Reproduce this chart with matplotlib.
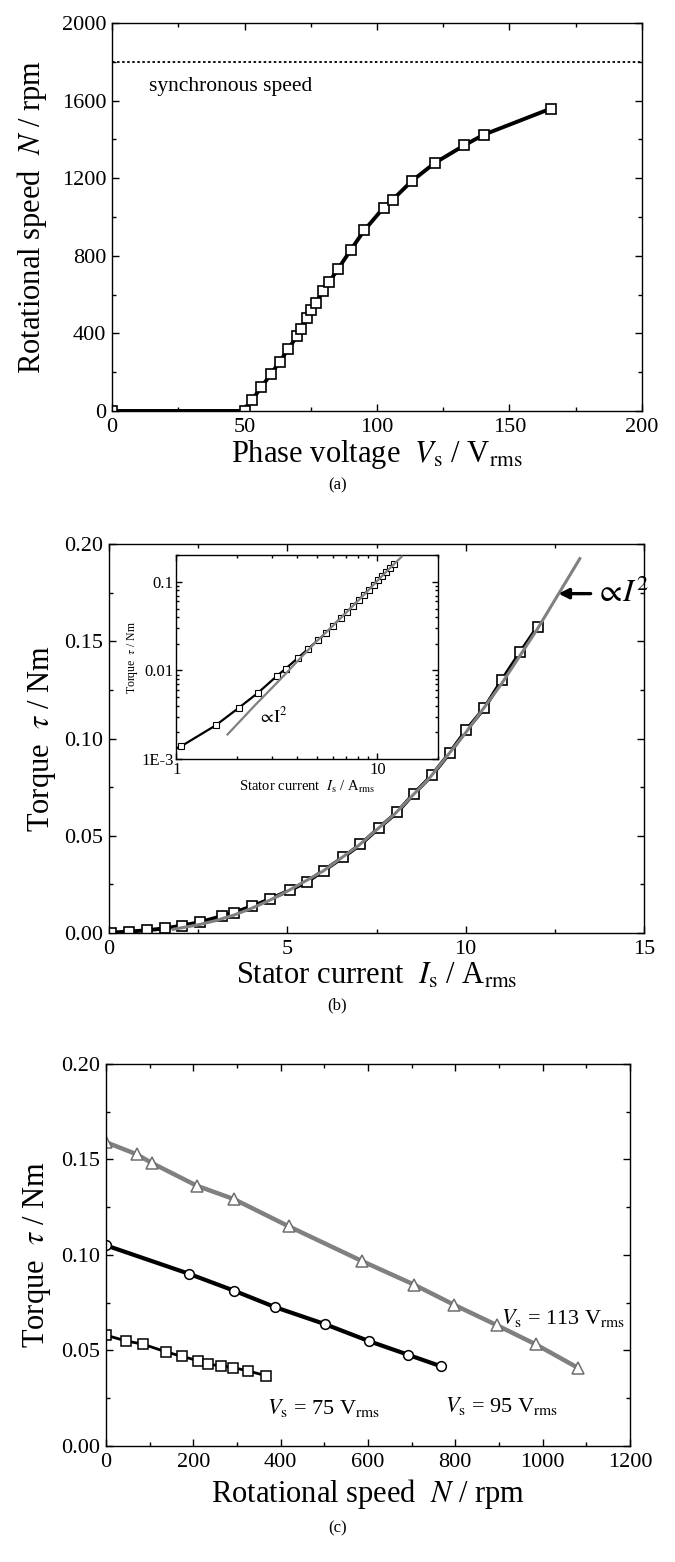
import matplotlib
matplotlib.use("Agg")
import matplotlib.pyplot as plt
from matplotlib.ticker import MultipleLocator, FormatStrFormatter, FixedLocator, FixedFormatter, LogLocator, NullFormatter

# ---- (a) speed vs phase voltage
V_a = [0, 50.0, 52.8, 56.3, 59.9, 63.3, 66.4, 69.8, 71.4, 73.5, 75.2, 76.8, 79.8,
       82.0, 85.2, 90.1, 95.2, 102.5, 105.9, 113.2, 121.8, 132.9, 140.3, 165.5]
N_a = [0, 0, 56, 122, 189, 254, 317, 386, 425, 481, 518, 557, 620,
       666, 730, 830, 931, 1048, 1089, 1186, 1278, 1369, 1424, 1558]
N_sync = 1800

# ---- (b) torque vs stator current
I_b = [0.05, 0.55, 1.06, 1.57, 2.05, 2.55, 3.17, 3.50, 4.02, 4.52, 5.08, 5.55, 6.02,
       6.57, 7.05, 7.56, 8.08, 8.54, 9.05, 9.56, 10.02, 10.52, 11.02, 11.53, 12.02]
T_b = [0.0002, 0.0007, 0.0014, 0.0024, 0.0038, 0.0056, 0.0087, 0.0105, 0.0138, 0.0175,
       0.0221, 0.0263, 0.0321, 0.0390, 0.0455, 0.0539, 0.0621, 0.0715, 0.0810, 0.0928,
       0.1044, 0.1156, 0.1301, 0.1443, 0.1575]
# grey "proportional to I^2" guide
I_fit = [1.8, 2.5, 3.0, 3.5, 4.0, 4.5, 5.0, 6.0, 7.0, 8.0, 9.0, 10.0, 11.0, 12.0, 13.2]
T_fit = [0.0019, 0.0042, 0.0064, 0.0092, 0.0127, 0.0168, 0.0215, 0.0318, 0.0450,
         0.0610, 0.0800, 0.1030, 0.1280, 0.1560, 0.1925]

# ---- (c) torque vs speed for three voltages
N_75 = [0, 45, 84.5, 138, 174, 210, 234, 264, 291, 325, 366]
T_75 = [0.058, 0.055, 0.0533, 0.0492, 0.0469, 0.0447, 0.0428, 0.0419, 0.0410, 0.0393, 0.0368]
N_95 = [0, 189, 293, 388, 501, 602, 691, 767]
T_95 = [0.105, 0.0902, 0.0813, 0.0726, 0.0638, 0.0549, 0.0478, 0.0417]
N_113 = [0, 70, 106, 208, 293, 419, 587, 705, 797, 896, 984, 1080]
T_113 = [0.159, 0.1527, 0.1480, 0.1362, 0.1292, 0.1149, 0.0967, 0.0845, 0.0739,
         0.0631, 0.0532, 0.0410]

plt.rcParams.update({
    "font.family": ["Liberation Serif", "DejaVu Serif"],
    "mathtext.fontset": "stix",
    "xtick.direction": "in", "ytick.direction": "in",
    "xtick.top": True, "ytick.right": True,
    "axes.linewidth": 1.0,
    "xtick.major.size": 5, "ytick.major.size": 5,
    "xtick.minor.size": 3, "ytick.minor.size": 3,
    "xtick.major.width": 1.0, "ytick.major.width": 1.0,
    "xtick.minor.width": 1.0, "ytick.minor.width": 1.0,
    "xtick.major.pad": 5, "ytick.major.pad": 4,
})

TICK_FS = 16
LAB_FS = 22
GREY = "#808080"

fig = plt.figure(figsize=(6.75, 15.62), dpi=100)

# ---------------- (a)
ax = fig.add_axes([0.166, 0.7369, 0.785, 0.2484])
ax.axhline(N_sync, color="k", ls=(0, (1.4, 1.4)), lw=1.3)
ax.plot(V_a, N_a, "-", color="k", lw=2.8, marker="s", ms=6.5, mfc="white",
        mec="k", mew=1.2)
ax.text(14, 1672, "synchronous speed", fontsize=15.5, va="center")
ax.set_xlim(0, 200)
ax.set_ylim(0, 2000)
ax.xaxis.set_major_locator(MultipleLocator(50))
ax.xaxis.set_minor_locator(MultipleLocator(25))
ax.yaxis.set_major_locator(MultipleLocator(400))
ax.yaxis.set_minor_locator(MultipleLocator(200))
ax.tick_params(labelsize=TICK_FS)
ax.set_xlabel(r"Phase voltage  $V_\mathrm{s}$ / V$_\mathrm{rms}$", fontsize=LAB_FS, labelpad=1)
ax.set_ylabel(r"Rotational speed  $N$ / rpm", fontsize=LAB_FS, labelpad=9)

# ---------------- (b)
ax = fig.add_axes([0.1615, 0.4027, 0.7926, 0.249])
ax.plot(I_b, T_b, "-", color="k", lw=2.8, marker="s", ms=7, mfc="white",
        mec="k", mew=1.2, zorder=2)
ax.plot(I_fit, T_fit, "-", color=GREY, lw=2.2, zorder=3)
ax.annotate(r"$\propto\!I^{2}$", xy=(12.6, 0.1745), xytext=(13.62, 0.1745),
            fontsize=23, va="center", ha="left",
            arrowprops=dict(arrowstyle="-|>", color="k", lw=2.4,
                            mutation_scale=15, shrinkA=1, shrinkB=0))
ax.set_xlim(0, 15)
ax.set_ylim(0, 0.20)
ax.xaxis.set_major_locator(MultipleLocator(5))
ax.xaxis.set_minor_locator(MultipleLocator(2.5))
ax.yaxis.set_major_locator(MultipleLocator(0.05))
ax.yaxis.set_minor_locator(MultipleLocator(0.025))
ax.yaxis.set_major_formatter(FormatStrFormatter("%.2f"))
ax.tick_params(labelsize=TICK_FS)
ax.set_xlabel(r"Stator current  $I_\mathrm{s}$ / A$_\mathrm{rms}$", fontsize=LAB_FS, labelpad=2)
ax.set_ylabel(r"Torque  $\tau$ / Nm", fontsize=LAB_FS, labelpad=5)

# inset (log-log)
axi = fig.add_axes([0.261, 0.514, 0.388, 0.1306])
axi.plot(I_b, T_b, "-", color="k", lw=1.6, marker="s", ms=3.8, mfc="white",
         mec="k", mew=0.8, zorder=2)
axi.plot(I_fit, T_fit, "-", color=GREY, lw=1.6, zorder=3)
axi.set_xscale("log")
axi.set_yscale("log")
axi.set_xlim(1, 20)
axi.set_ylim(1e-3, 0.2)
axi.xaxis.set_major_locator(FixedLocator([1, 10]))
axi.xaxis.set_major_formatter(FixedFormatter(["1", "10"]))
axi.xaxis.set_minor_locator(LogLocator(base=10, subs=range(2, 10)))
axi.xaxis.set_minor_formatter(NullFormatter())
axi.yaxis.set_major_locator(FixedLocator([1e-3, 1e-2, 1e-1]))
axi.yaxis.set_major_formatter(FixedFormatter(["1E-3", "0.01", "0.1"]))
axi.yaxis.set_minor_locator(LogLocator(base=10, subs=range(2, 10)))
axi.yaxis.set_minor_formatter(NullFormatter())
axi.tick_params(which="major", length=4, labelsize=12, pad=2)
axi.tick_params(which="minor", length=2)
axi.text(2.55, 0.003, r"$\propto\!\mathrm{I}^{2}$", fontsize=13, va="center")
axi.set_xlabel(r"Stator current  $I_\mathrm{s}$ / A$_\mathrm{rms}$", fontsize=10.5, labelpad=1)
axi.set_ylabel(r"Torque  $\tau$ / Nm", fontsize=8.5, labelpad=1)

# ---------------- (c)
ax = fig.add_axes([0.157, 0.0743, 0.7763, 0.2446])
ax.plot(N_113, T_113, "-", color=GREY, lw=3.2, marker="^", ms=8, mfc="white",
        mec="#6e6e6e", mew=1.1)
ax.plot(N_95, T_95, "-", color="k", lw=3.0, marker="o", ms=7, mfc="white",
        mec="k", mew=1.1)
ax.plot(N_75, T_75, "-", color="k", lw=2.0, marker="s", ms=6.5, mfc="white",
        mec="k", mew=1.1)
ax.text(905, 0.067, r"$V_\mathrm{s}$ = 113 V$_\mathrm{rms}$", fontsize=16, va="center")
ax.text(777, 0.021, r"$V_\mathrm{s}$ = 95 V$_\mathrm{rms}$", fontsize=16, va="center")
ax.text(368, 0.020, r"$V_\mathrm{s}$ = 75 V$_\mathrm{rms}$", fontsize=16, va="center")
ax.set_xlim(0, 1200)
ax.set_ylim(0, 0.20)
ax.xaxis.set_major_locator(MultipleLocator(200))
ax.xaxis.set_minor_locator(MultipleLocator(100))
ax.yaxis.set_major_locator(MultipleLocator(0.05))
ax.yaxis.set_minor_locator(MultipleLocator(0.025))
ax.yaxis.set_major_formatter(FormatStrFormatter("%.2f"))
ax.tick_params(labelsize=TICK_FS)
ax.set_xlabel(r"Rotational speed  $N$ / rpm", fontsize=LAB_FS, labelpad=4)
ax.set_ylabel(r"Torque  $\tau$ / Nm", fontsize=LAB_FS, labelpad=6)

# panel letters
for txt, ypx in [("(a)", 485), ("(b)", 1005), ("(c)", 1528)]:
    fig.text(0.5, 1 - ypx / 1562, txt, ha="center", va="center", fontsize=12)

fig.savefig("out.png", dpi=100, facecolor="white")
